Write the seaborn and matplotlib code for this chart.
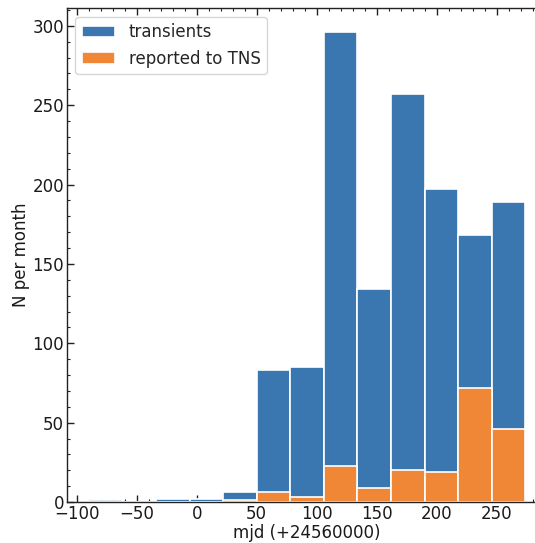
import numpy as np
import pandas as pd
import matplotlib
matplotlib.use("Agg")
import matplotlib.pyplot as plt
import seaborn as sns
from matplotlib.ticker import MultipleLocator

# bin edges (mjd offset from 24560000), width ~28 days
bin_edges = [-90, -62, -34, -6, 22, 50, 78, 106, 134, 162, 190, 218, 246, 274]
transients = [1, 0, 2, 2, 6, 83, 85, 296, 134, 257, 197, 168, 189]
reported_tns = [0, 0, 0, 0, 1, 6, 3, 23, 9, 20, 19, 72, 46]

sns.set_style("white")
plt.rcParams['font.family'] = ['DejaVu Sans']

edges = [float(e) for e in bin_edges]
centers = [(a + b) / 2 for a, b in zip(edges[:-1], edges[1:])]
df = pd.DataFrame({"mjd": centers, "transients": transients,
                   "tns": reported_tns})

fig = plt.figure(figsize=(5.35, 5.43), dpi=100)
ax = fig.add_axes([0.125, 0.0755, 0.898, 0.909])

sns.histplot(data=df, x="mjd", weights="transients", bins=edges, ax=ax,
             color="#3a76b0", alpha=1, edgecolor="white", linewidth=1.2,
             label="transients")
sns.histplot(data=df, x="mjd", weights="tns", bins=edges, ax=ax,
             color="#ef8737", alpha=1, edgecolor="white", linewidth=1.2,
             label="reported to TNS")

ax.set_xlim(-108.2, 292.2)
ax.set_ylim(0, 311)
ax.xaxis.set_major_locator(MultipleLocator(50))
ax.xaxis.set_minor_locator(MultipleLocator(10))
ax.yaxis.set_major_locator(MultipleLocator(50))
ax.yaxis.set_minor_locator(MultipleLocator(10))
ax.tick_params(which="both", direction="in", top=True, right=True,
               bottom=True, left=True, labelsize=12, color="#222222",
               labelcolor="#1a1a1a", pad=2)
ax.tick_params(which="major", length=5, width=1)
ax.tick_params(which="minor", length=2.5, width=0.8)
for s in ax.spines.values():
    s.set_color("#222222")
    s.set_linewidth(1)

ax.set_xlabel("mjd (+24560000)", fontsize=12, labelpad=1, color="#1a1a1a")
ax.set_ylabel("N per month", fontsize=12, labelpad=2, color="#1a1a1a")
ax.legend(loc="upper left", fontsize=12, frameon=True, handlelength=2.0)

fig.savefig("out.png", dpi=100)
